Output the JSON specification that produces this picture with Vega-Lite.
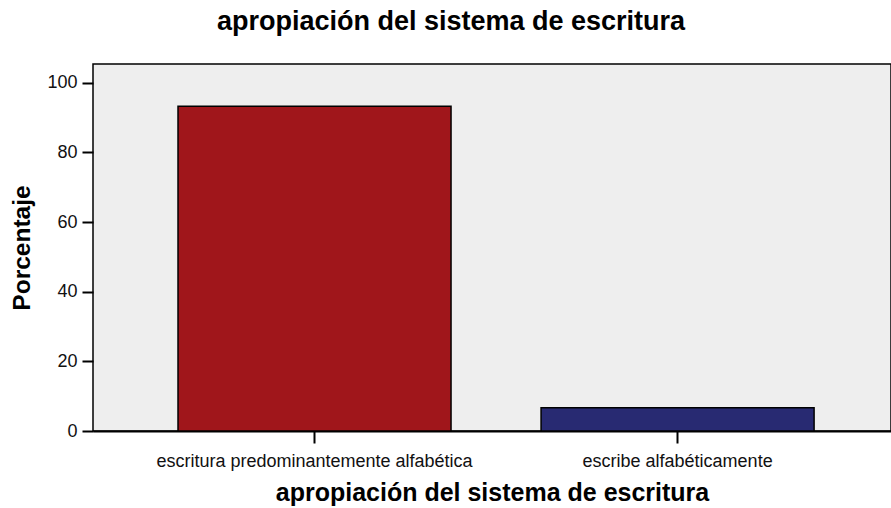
{
  "$schema": "https://vega.github.io/schema/vega-lite/v6.json",
  "autosize": {"type": "none"},
  "padding": {"left": 93, "top": 64, "right": 0, "bottom": 77},
  "width": 798,
  "height": 367,
  "background": "white",
  "title": {
    "text": "apropiación del sistema de escritura",
    "font": "Liberation Sans",
    "fontSize": 27,
    "fontWeight": "bold",
    "color": "#000000",
    "anchor": "middle",
    "frame": "group",
    "dx": -41,
    "offset": 28
  },
  "config": {
    "view": {"fill": "#EEEEEE", "stroke": "#000000", "strokeWidth": 1.5},
    "font": "Liberation Sans"
  },
  "data": {
    "values": [
      {"categoria": "escritura predominantemente alfabética", "porcentaje": 93.3},
      {"categoria": "escribe alfabéticamente", "porcentaje": 6.7}
    ]
  },
  "mark": {"type": "bar", "stroke": "#000000", "strokeWidth": 1.5},
  "encoding": {
    "x": {
      "field": "categoria",
      "type": "nominal",
      "sort": ["escritura predominantemente alfabética", "escribe alfabéticamente"],
      "scale": {"paddingInner": 0.248, "paddingOuter": 0.223, "align": 0.525},
      "axis": {
        "title": "apropiación del sistema de escritura",
        "titleFont": "Liberation Sans",
        "titleFontSize": 25,
        "titleFontWeight": "bold",
        "titleColor": "#000000",
        "titlePadding": 10,
        "labelAngle": 0,
        "labelLimit": 0,
        "labelFont": "Liberation Sans",
        "labelFontSize": 18,
        "labelColor": "#111111",
        "labelPadding": 9,
        "tickColor": "#000000",
        "tickSize": 12,
        "tickWidth": 2,
        "domainColor": "#000000",
        "domainWidth": 2,
        "grid": false
      }
    },
    "y": {
      "field": "porcentaje",
      "type": "quantitative",
      "scale": {"domain": [0, 105.4], "nice": false},
      "axis": {
        "title": "Porcentaje",
        "titleFont": "Liberation Sans",
        "titleFontSize": 24.5,
        "titleFontWeight": "bold",
        "titleColor": "#000000",
        "titlePadding": 12,
        "values": [0, 20, 40, 60, 80, 100],
        "labelFont": "Liberation Sans",
        "labelFontSize": 18,
        "labelColor": "#111111",
        "labelPadding": 5,
        "tickColor": "#000000",
        "tickSize": 11,
        "tickWidth": 2,
        "domain": false,
        "grid": false
      }
    },
    "fill": {
      "field": "categoria",
      "type": "nominal",
      "scale": {
        "domain": ["escritura predominantemente alfabética", "escribe alfabéticamente"],
        "range": ["#A0161B", "#282A72"]
      },
      "legend": null
    }
  }
}
